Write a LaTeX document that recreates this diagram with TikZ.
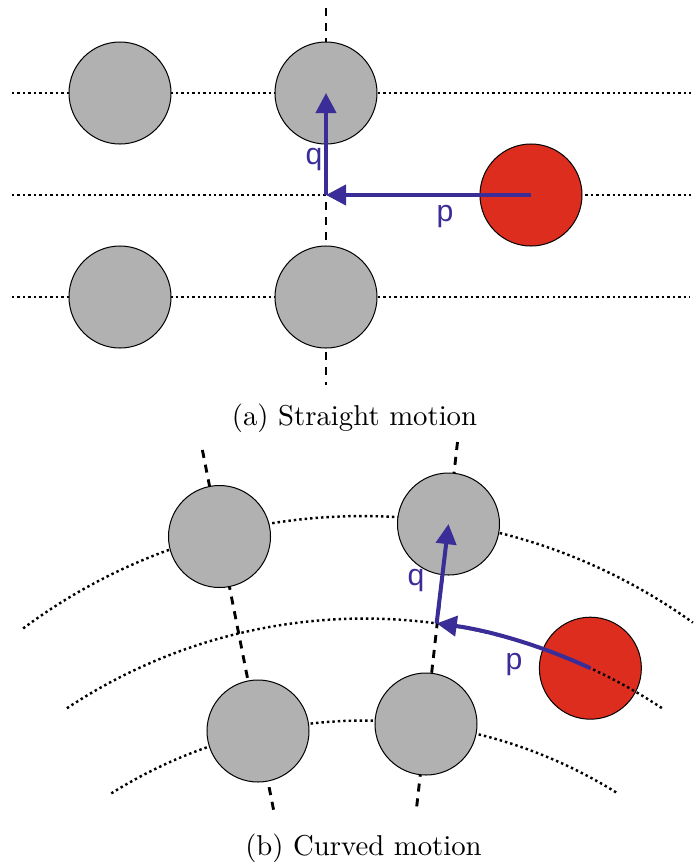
\documentclass[tikz,border=0pt]{standalone}
\usepackage{fontspec}
\newfontfamily\labelfont{Liberation Sans}
\usetikzlibrary{arrows.meta,calc}
\definecolor{ballgray}{RGB}{176,177,176}
\definecolor{ballred}{RGB}{221,45,30}
\definecolor{vecblue}{RGB}{59,45,152}
\tikzset{
  ball/.style={circle,draw=black,line width=0.35pt,fill=ballgray,minimum size=35.5pt,inner sep=0pt},
  redball/.style={ball,fill=ballred},
  dotline/.style={line width=0.85pt,dash pattern=on 0.85pt off 1.05pt},
  dashline/.style={line width=1pt,dash pattern=on 2.8pt off 2.4pt},
  vec/.style={draw=vecblue,line width=1.4pt,-{Triangle[length=7pt,width=7pt]}},
  veclabel/.style={text=vecblue,font=\labelfont\fontsize{10.5}{12}\selectfont,anchor=base,inner sep=0pt},
  caption/.style={font=\fontsize{10}{12}\selectfont,anchor=base,inner sep=0pt}
}
\begin{document}
\begin{tikzpicture}[x=0.348pt,y=0.348pt]
\useasboundingbox (0,0) rectangle (693,-863);
% ---------- (a) straight motion ----------
\coordinate (L1a) at (12,-93);  \coordinate (L1b) at (693,-93);
\coordinate (L2a) at (12,-195); \coordinate (L2b) at (693,-195);
\coordinate (L3a) at (12,-297); \coordinate (L3b) at (690,-297);
\coordinate (Va) at (326,-8);   \coordinate (Vb) at (326,-385);
\draw[dotline] (L1a) -- (L1b);
\draw[dotline] (L2a) -- (L2b);
\draw[dotline] (L3a) -- (L3b);
\draw[dashline] (Va) -- (Vb);
\node[ball] (a1) at (120,-93) {};
\node[ball] (a2) at (326,-93) {};
\node[ball] (a3) at (120,-297) {};
\node[ball] (a4) at (326,-297) {};
\node[redball] (ar) at (531,-195) {};
\coordinate (aj) at (326,-195);
\draw[vec] (ar.center) -- (aj);
\draw[vec] (aj) -- (a2.center);
\node[veclabel] (aq) at (314,-164) {q};
\node[veclabel] (ap) at (445,-221) {p};
\node[caption] (capa) at (354.5,-425) {(a) Straight motion};
% ---------- (b) curved motion ----------
\coordinate (Cu) at (362,-1083);
\coordinate (Cm) at (364.5,-1157);
\coordinate (Cl) at (364.5,-1197);
\draw[dotline] ($(Cu)+(126.7:567)$) arc[start angle=126.7,end angle=54.3,radius=567];
\draw[dotline] ($(Cl)+(122.1:476.5)$) arc[start angle=122.1,end angle=57.9,radius=476.5];
\coordinate (Ra) at (202.4,-450); \coordinate (Rb) at (274.2,-813);
\coordinate (Sa) at (457.5,-442); \coordinate (Sb) at (416.1,-812);
\draw[dashline] (Ra) -- (Rb);
\draw[dashline] (Sa) -- (Sb);
\node[ball] (b1) at (219.5,-536.5) {};
\node[ball] (b2) at (448.5,-524) {};
\node[ball] (b3) at (258,-731) {};
\node[ball] (b4) at (426,-724) {};
\node[redball] (br) at ($(Cm)+(65.2:538.5)$) {};
\draw[dotline] ($(Cm)+(123.55:538.5)$) arc[start angle=123.55,end angle=56.4,radius=538.5];
\coordinate (bj) at ($(Cm)+(82.3:538.5)$);
\draw[vec] (br.center) arc[start angle=65.2,end angle=82.3,radius=538.5];
\draw[vec] (bj) -- (b2.center);
\node[veclabel] (bq) at (416,-585) {q};
\node[veclabel] (bp) at (514,-669) {p};
\node[caption] (capb) at (363.5,-855) {(b) Curved motion};
\end{tikzpicture}
\end{document}
